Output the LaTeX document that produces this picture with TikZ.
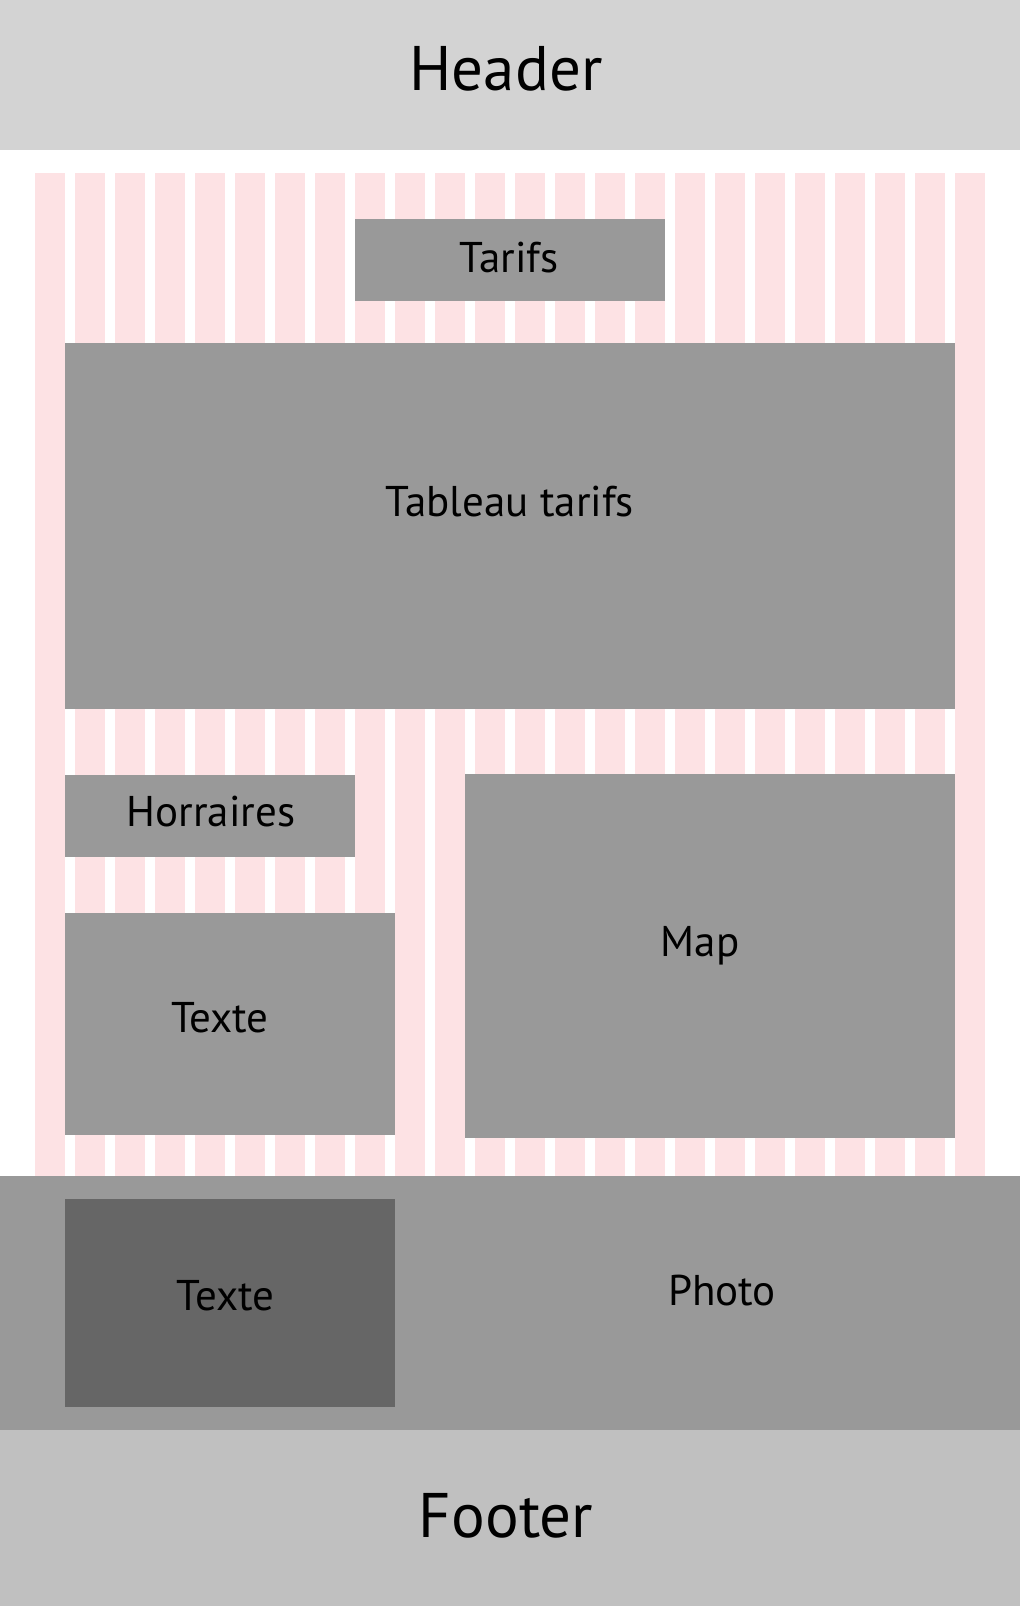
\documentclass[tikz,border=0pt]{standalone}
\usepackage{fontspec}
\setmainfont{PT Sans}
\definecolor{headergray}{HTML}{D3D3D3}
\definecolor{gridpink}{RGB}{253,226,228}
\definecolor{blockgray}{HTML}{999999}
\definecolor{darkgray}{HTML}{666666}
\definecolor{footergray}{HTML}{C0C0C0}
\tikzset{
  block/.style={fill=blockgray},
  bigtext/.style={inner sep=0pt, anchor=base, font=\fontsize{63}{63}\selectfont},
  label/.style={inner sep=0pt, anchor=base, font=\fontsize{43}{43}\selectfont},
}
\begin{document}
\begin{tikzpicture}[x=1pt,y=-1pt]
\useasboundingbox (0,0) rectangle (1020,1606);
\fill[white] (0,0) rectangle (1020,1606);
% header band
\fill[headergray] (0,0) rectangle (1020,150);
% 24-column grid
\foreach \k in {0,...,23}
  \fill[gridpink] ({35+40*\k},173) rectangle +(30,1003);
% content blocks
\fill[block] (355,219) rectangle (665,301);
\fill[block] (65,343) rectangle (955,709);
\fill[block] (65,775) rectangle (355,857);
\fill[block] (465,774) rectangle (955,1138);
\fill[block] (65,913) rectangle (395,1135);
% photo band
\fill[block] (0,1176) rectangle (1020,1430);
\fill[darkgray] (65,1199) rectangle (395,1407);
% footer band
\fill[footergray] (0,1430) rectangle (1020,1606);
% labels
\node[bigtext] (header) at (506,90.7) {Header};
\node[label] (tarifs) at (509,272.7) {Tarifs};
\node[label] (tableau) at (510,516.7) {Tableau tarifs};
\node[label] (horaires) at (211,826.7) {Horraires};
\node[label] (map) at (700,956) {Map};
\node[label] (texte) at (220,1032.3) {Texte};
\node[label] (textephoto) at (225.5,1310.7) {Texte};
\node[label] (photo) at (722,1305.7) {Photo};
\node[bigtext] (footer) at (506,1537.3) {Footer};
\end{tikzpicture}
\end{document}
